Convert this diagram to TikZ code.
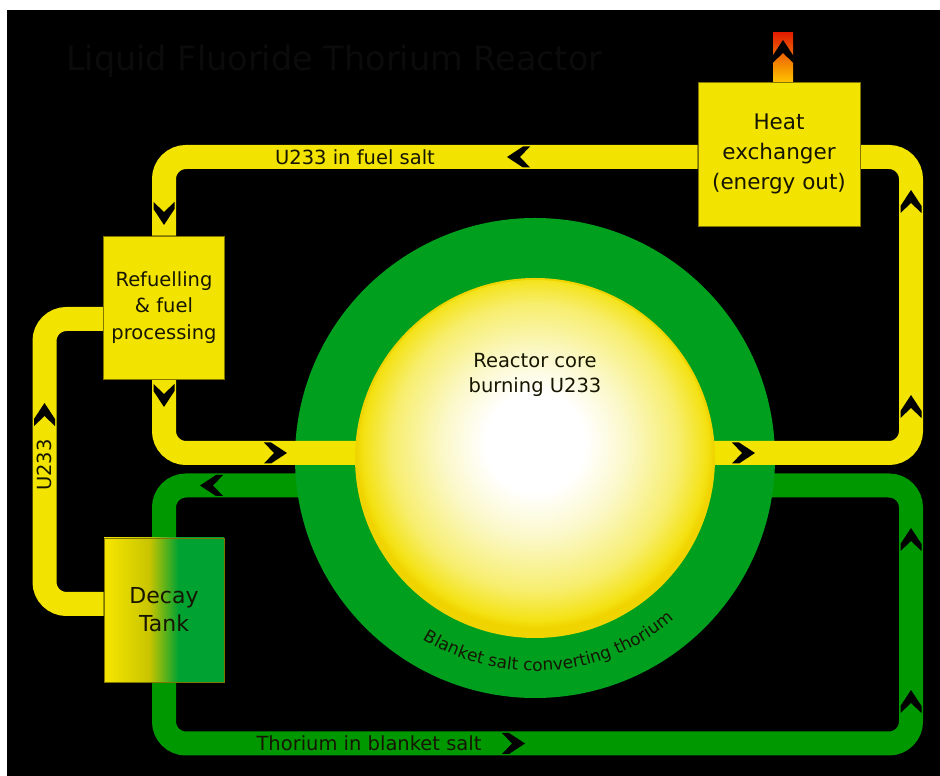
\documentclass[tikz,border=0pt]{standalone}
\usepackage{fontspec}
\setmainfont{DejaVu Sans}
\usetikzlibrary{decorations.text}
\definecolor{fuelY}{RGB}{243,227,0}
\definecolor{boxLine}{RGB}{130,118,0}
\definecolor{pipeG}{RGB}{0,152,0}
\definecolor{ringG}{RGB}{0,160,30}
\definecolor{tankG}{RGB}{0,163,50}
\definecolor{tankM}{RGB}{200,196,0}
\definecolor{ink}{RGB}{22,22,0}
\definecolor{titleC}{RGB}{11,11,11}
\definecolor{coreB}{RGB}{251,248,200}
\definecolor{coreC}{RGB}{247,238,110}
\definecolor{coreD}{RGB}{244,226,20}
\definecolor{coreE}{RGB}{240,212,0}
\definecolor{chimR}{RGB}{225,30,0}
\definecolor{chimO}{RGB}{255,140,0}
\definecolor{chimY}{RGB}{255,195,0}
\pgfdeclareradialshading{coreshade}{\pgfpoint{0bp}{2.5bp}}{color(0bp)=(white); color(7bp)=(white); color(13bp)=(coreB); color(20bp)=(coreC); color(24bp)=(coreD); color(25bp)=(coreE); color(50bp)=(coreE)}
\pgfdeclarehorizontalshading{tankshade}{100bp}{color(0bp)=(fuelY); color(27bp)=(fuelY); color(44bp)=(tankM); color(56bp)=(tankG); color(100bp)=(tankG)}
\pgfdeclarelayer{bgl}
\pgfdeclarelayer{gpipe}
\pgfdeclarelayer{ringl}
\pgfdeclarelayer{ypipe}
\pgfsetlayers{bgl,gpipe,ringl,ypipe,main}
\tikzset{
  fuel/.style={draw=fuelY, line width=24pt, rounded corners=22pt},
  blanket/.style={draw=pipeG, line width=24pt, rounded corners=22pt},
  unit/.style={draw=boxLine, line width=0.8pt, fill=fuelY, inner sep=0pt, align=center, text=ink},
  lbl/.style={inner sep=0pt, text=ink, font=\fontsize{19.5}{25}\selectfont},
  chev/.pic={\fill[black] (-13,10.5) -- (-6,10.5) -- (10,0) -- (-6,-10.5) -- (-13,-10.5) -- (-3,0) -- cycle;}
}
\begin{document}
\begin{tikzpicture}[x=1pt,y=1pt]
\useasboundingbox (0,0) rectangle (940,776);
\begin{pgfonlayer}{bgl}
\fill[white] (0,0) rectangle (940,776);
\fill[black] (7,0) rectangle (940,766);
\end{pgfonlayer}

% title
\node[inner sep=0pt, anchor=base west, text=titleC, font=\fontsize{33.5}{40}\selectfont] (title) at (66,705) {Liquid Fluoride Thorium Reactor};

% reactor
\begin{pgfonlayer}{ringl}
\node[circle, fill=ringG, minimum size=480pt, inner sep=0pt] (ring) at (535,318) {};
\end{pgfonlayer}
\node[circle, shade, shading=coreshade, draw=coreE, line width=2pt, minimum size=358pt, inner sep=0pt] (core) at (535,318) {};
\node[lbl, align=center] (corelbl) at (535,401.5) {Reactor core\\burning U233};
\path[decorate, decoration={text along path, text align=center, text color=ink,
  text={|\fontsize{17}{20}\selectfont|Blanket salt converting thorium}}]
  ([shift={(224.5:213)}]ring.center) arc[start angle=224.5, end angle=324.5, radius=213];

% units
\node[unit, minimum width=162pt, minimum height=144pt, font=\fontsize{21.5}{30}\selectfont] (hx) at (779,622) {Heat\\exchanger\\(energy out)};
\node[inner sep=0pt, minimum width=20pt, minimum height=49pt, top color=chimR, middle color=chimO, bottom color=chimY] (chim) at (783,718.5) {};
\node[unit, minimum width=121pt, minimum height=143pt, font=\fontsize{19.5}{26.5}\selectfont] (ref) at (164,468.5) {Refuelling\\\&~fuel\\processing};
\node[draw=boxLine, line width=0.8pt, shade, shading=tankshade, minimum width=120pt, minimum height=144pt, inner sep=0pt, align=center, text=ink, font=\fontsize{22}{28}\selectfont] (tank) at (164,166) {Decay\\Tank};

% pipe corners
\coordinate (tl) at (164,619);
\coordinate (yBL) at (164,323);
\coordinate (yBR) at (911,323);
\coordinate (yTR) at (911,619);
\coordinate (uT) at (44.5,457);
\coordinate (uB) at (44.5,172);
\coordinate (g1) at (164,290.5);
\coordinate (g2) at (164,32.5);
\coordinate (g3) at (911,32.5);
\coordinate (g4) at (911,290.5);

\begin{pgfonlayer}{ypipe}
\draw[fuel] ([yshift=-3pt]hx.west) -- (tl) -- (ref.north);
\draw[fuel] (ref.south) -- (yBL) -- (yBR) -- (yTR) -- ([yshift=-3pt]hx.east);
\draw[fuel] ([yshift=-11.5pt]ref.west) -- (uT) -- (uB) -- ([yshift=6pt]tank.west);
\end{pgfonlayer}
\begin{pgfonlayer}{gpipe}
\draw[blanket] (ring.center |- g1) -- (g1) -- (g2) -- (g3) -- (g4) -- (ring.center |- g4);
\end{pgfonlayer}

% pipe labels
\node[lbl] (fuellbl) at (355,619) {U233 in fuel salt};
\node[lbl] (thlbl) at (369,32.5) {Thorium in blanket salt};
\node[lbl, rotate=90] (ulbl) at (44.5,311) {U233};

% flow chevrons
\pic[rotate=180] at (517,619) {chev};
\pic[rotate=-90] at (164,561) {chev};
\pic[rotate=-90] at (164,379) {chev};
\pic at (277,323) {chev};
\pic at (745,323) {chev};
\pic[rotate=90] at (911,576) {chev};
\pic[rotate=90] at (911,371) {chev};
\pic[rotate=90] at (783,726) {chev};
\pic[rotate=90] at (44.5,363) {chev};
\pic[rotate=180] at (210,290.5) {chev};
\pic at (515,32.5) {chev};
\pic[rotate=90] at (911,238) {chev};
\pic[rotate=90] at (911,76) {chev};
\end{tikzpicture}
\end{document}
